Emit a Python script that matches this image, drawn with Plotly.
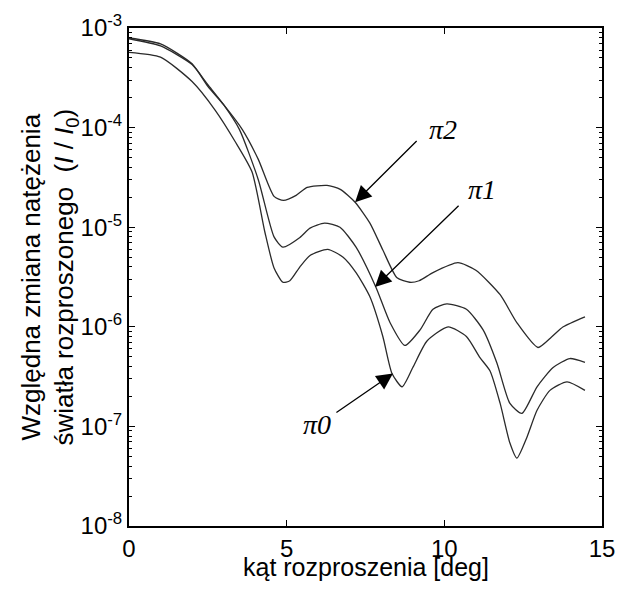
import plotly.graph_objects as go

# angle [deg] and relative intensity I/I0 for each curve
angle_pi2 = [0, 1.0, 2.0, 2.5, 3.0, 3.6, 4.1, 4.6, 4.9, 5.3, 5.65, 6.28, 6.7, 7.17, 7.64,
             8.05, 8.5, 8.9, 9.2, 9.64, 10.43, 11.0, 11.77, 12.3, 12.97, 13.4, 13.77, 14.46]
val_pi2 = [7.94e-4, 6.92e-4, 4.37e-4, 2.60e-4, 1.70e-4, 9.5e-5, 4.8e-5, 2.04e-5, 1.86e-5,
           2.09e-5, 2.51e-5, 2.63e-5, 2.40e-5, 1.78e-5, 1.10e-5, 5.9e-6, 3.1e-6, 2.8e-6,
           2.9e-6, 3.5e-6, 4.4e-6, 3.7e-6, 2.1e-6, 1.1e-6, 6.2e-7, 7.9e-7, 1.0e-6, 1.26e-6]

angle_pi1 = [0, 1.0, 2.0, 2.5, 3.0, 3.5, 4.1, 4.6, 4.88, 5.42, 5.74, 6.2, 6.69, 7.2, 7.83,
             8.28, 8.75, 9.23, 9.64, 10.08, 10.7, 11.23, 11.67, 12.08, 12.46, 12.94, 13.45,
             13.98, 14.46]
val_pi1 = [7.8e-4, 6.6e-4, 4.3e-4, 2.7e-4, 1.7e-4, 9.6e-5, 3.0e-5, 8.0e-6, 6.3e-6, 7.9e-6,
           9.8e-6, 1.1e-5, 1.0e-5, 6.3e-6, 2.5e-6, 1.1e-6, 6.5e-7, 9.3e-7, 1.5e-6, 1.7e-6,
           1.5e-6, 9.3e-7, 4.3e-7, 1.7e-7, 1.35e-7, 2.5e-7, 3.9e-7, 4.8e-7, 4.4e-7]

angle_pi0 = [0, 1.0, 2.0, 2.73, 3.36, 3.9, 4.31, 4.6, 4.88, 5.1, 5.42, 5.74, 6.3, 6.79, 7.2,
             7.64, 8.05, 8.34, 8.66, 9.0, 9.45, 10.12, 10.7, 11.13, 11.45, 11.77, 12.08,
             12.3, 12.62, 12.94, 13.35, 13.89, 14.46]
val_pi0 = [5.7e-4, 5.1e-4, 2.9e-4, 1.5e-4, 7.3e-5, 3.6e-5, 8.9e-6, 3.9e-6, 2.8e-6, 2.9e-6,
           4.0e-6, 5.2e-6, 6.0e-6, 5.0e-6, 3.5e-6, 2.0e-6, 8.0e-7, 3.4e-7, 2.5e-7, 3.9e-7,
           7.2e-7, 1.0e-6, 8.0e-7, 4.9e-7, 3.6e-7, 1.7e-7, 6.8e-8, 4.8e-8, 7.8e-8, 1.45e-7,
           2.3e-7, 2.8e-7, 2.3e-7]

series_names = ["π2", "π1", "π0"]
x_ticks = [0, 5, 10, 15]
y_exponents = [-8, -7, -6, -5, -4, -3]
x_title = "kąt rozproszenia [deg]"
y_title = "Względna zmiana natężenia<br>światła rozproszonego  (<i>I</i> / <i>I</i><sub>0</sub>)"

y_tickvals = [10.0 ** e for e in y_exponents]
y_ticktext = [f"10<sup>{e}</sup>" for e in y_exponents]
y_minor = [m * 10.0 ** e for e in y_exponents[:-1] for m in range(2, 10)]

FONT = "Liberation Sans Narrow, Liberation Sans, Arial, sans-serif"
SERIF = "Liberation Serif, Times New Roman, serif"

fig = go.Figure()
for xs, ys, nm in [(angle_pi2, val_pi2, series_names[0]),
                   (angle_pi1, val_pi1, series_names[1]),
                   (angle_pi0, val_pi0, series_names[2])]:
    fig.add_trace(go.Scatter(x=xs, y=ys, mode="lines", name=nm,
                             line=dict(color="#2a2a2a", width=1.3, shape="spline", smoothing=0.6),
                             showlegend=False, hoverinfo="skip"))

axis_common = dict(showgrid=False, zeroline=False, showline=True, linecolor="black",
                   linewidth=2, mirror="ticks", ticks="inside", tickcolor="black",
                   tickwidth=1.2, ticklen=6, tickfont=dict(family=FONT, size=24, color="black"))

fig.update_xaxes(range=[0, 15], tickvals=x_ticks, ticktext=[str(v) for v in x_ticks],
                 **axis_common)
fig.update_yaxes(type="log", range=[-8, -3], tickvals=y_tickvals, ticktext=y_ticktext,
                 minor=dict(tickvals=y_minor, ticks="inside", ticklen=3, tickcolor="black"),
                 **axis_common)

# axis titles as annotations for exact placement
fig.add_annotation(x=0.5, y=-0.114, xref="paper", yref="paper", text=x_title,
                   showarrow=False, xanchor="center", yanchor="bottom",
                   font=dict(family=FONT, size=25, color="black"))
fig.add_annotation(x=-0.17, y=0.5, xref="paper", yref="paper", text=y_title,
                   showarrow=False, xanchor="center", yanchor="middle", textangle=-90,
                   font=dict(family=FONT, size=26, color="black"))

def arrow(tip_x, tip_y, tail_x, tail_y):
    fig.add_annotation(x=tip_x, y=tip_y, ax=tail_x, ay=tail_y, xref="x", yref="y",
                       axref="x", ayref="y", text="", showarrow=True, arrowhead=2,
                       arrowsize=2.5, arrowwidth=1.3, arrowcolor="black")

def label(x, y, txt):
    fig.add_annotation(x=x, y=y, xref="x", yref="y", text=f"<i>{txt}</i>", showarrow=False,
                       font=dict(family=SERIF, size=28, color="black"))

arrow(7.17, -4.75, 9.17, -4.12)
label(9.96, -4.02, series_names[0])
arrow(7.80, -5.60, 10.5, -4.77)
label(11.2, -4.62, series_names[1])
arrow(8.37, -6.47, 6.53, -6.87)
label(5.96, -6.98, series_names[2])

# page body has an 8px margin, so the figure is sized to fit the 626x593 window
fig.update_layout(width=610, height=577, plot_bgcolor="white", paper_bgcolor="white",
                  margin=dict(l=121, r=16, t=20, b=59, autoexpand=False))

fig.write_html("out.html")
